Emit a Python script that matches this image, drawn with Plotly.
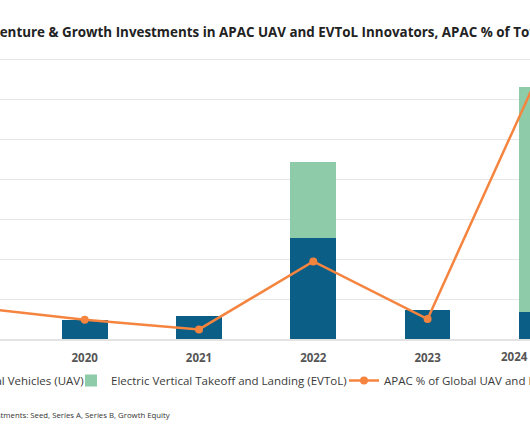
import plotly.graph_objects as go

# ---- data ----
years = ["2019", "2020", "2021", "2022", "2023", "2024 (YTD)"]
uav_invest = [30, 47, 58, 252, 73, 68]          # Unmanned Aerial Vehicles (UAV)
evtol_invest = [0, 0, 0, 190, 0, 561]           # Electric Vertical Takeoff and Landing (EVToL)
apac_share = [0.040, 0.024, 0.012, 0.097, 0.025, 0.34]  # APAC % of Global UAV and EVToL

title_text = "Venture & Growth Investments in APAC UAV and EVToL Innovators, APAC % of Total"
note_text = "Note: Venture & Growth Investments: Seed, Series A, Series B, Growth Equity"

C_UAV = "#0b5e86"
C_EVTOL = "#8ecba9"
C_LINE = "#f5843f"
FONT = "Open Sans"

W, H = 530, 442
M_T, M_B = 57, 103
PLOT_H = H - M_T - M_B          # 282 px
Y_TOP = 700 * PLOT_H / 280      # so that the 700 gridline sits at pixel row 59
Y2_TOP = 0.35 * PLOT_H / 280

def py(pix):  # paper y from pixel row
    return (H - M_B - pix) / PLOT_H

fig = go.Figure()
fig.add_trace(go.Bar(
    x=years, y=uav_invest, name="Unmanned Aerial Vehicles (UAV)",
    marker=dict(color=C_UAV, line=dict(width=0)), width=0.4, legend="legend",
))
fig.add_trace(go.Bar(
    x=years, y=evtol_invest, name="Electric Vertical Takeoff and Landing (EVToL)",
    marker=dict(color=C_EVTOL, line=dict(width=0)), width=0.4, legend="legend2",
))
fig.add_trace(go.Scatter(
    x=years, y=apac_share, name="APAC % of Global UAV and EVToL Investments",
    mode="lines+markers", yaxis="y2",
    line=dict(color=C_LINE, width=2.5), marker=dict(color=C_LINE, size=8),
    legend="legend3",
))

legend_common = dict(orientation="h", font=dict(family=FONT, size=11.5, color="#3a3a3a"),
                     bgcolor="rgba(0,0,0,0)", borderwidth=0, yanchor="top")
LEG_Y = py(366)

fig.update_layout(
    width=W, height=H,
    margin=dict(l=0, r=0, t=M_T, b=M_B, pad=0, autoexpand=False),
    paper_bgcolor="white", plot_bgcolor="white",
    barmode="stack",
    font=dict(family=FONT, color="#333"),
    showlegend=True,
    xaxis=dict(
        type="category", categoryorder="array", categoryarray=years,
        range=[0.259, 4.896],
        tickmode="array", tickvals=years,
        ticktext=[f"<b>{y}</b>" for y in years],
        tickfont=dict(family=FONT, size=11.5, color="#555"),
        ticklabelstandoff=7,
        showgrid=False, showline=True, linecolor="#e3e3e3", linewidth=1.5,
        ticks="", zeroline=False,
    ),
    yaxis=dict(
        range=[0, Y_TOP], dtick=100, showticklabels=False,
        showgrid=True, gridcolor="#e6e6e6", gridwidth=1,
        zeroline=False, showline=False, ticks="",
    ),
    yaxis2=dict(
        range=[0, Y2_TOP], overlaying="y", side="right",
        showticklabels=False, showgrid=False, zeroline=False, showline=False,
        tickformat=".0%",
    ),
    legend=dict(**legend_common, x=89 / W, xanchor="right", y=LEG_Y),
    legend2=dict(**legend_common, x=71 / W, xanchor="left", y=LEG_Y),
    legend3=dict(**legend_common, x=344 / W, xanchor="left", y=LEG_Y),
)

fig.add_annotation(
    text=f"<b>{title_text}</b>", xref="paper", yref="paper",
    x=-11 / W, y=py(32), xanchor="left", yanchor="middle", showarrow=False,
    font=dict(family=FONT, size=13.4, color="#222"),
)
fig.add_annotation(
    text=f"<b>{years[-1]}</b>", xref="paper", yref="paper",
    x=499 / W, y=py(356.5), xanchor="left", yanchor="middle", showarrow=False,
    font=dict(family=FONT, size=11.5, color="#555"),
)
fig.add_annotation(
    text=note_text, xref="paper", yref="paper",
    x=172 / W, y=py(415), xanchor="right", yanchor="middle", showarrow=False,
    font=dict(family=FONT, size=7.8, color="#333"),
)

fig.write_html(
    "out.html",
    config={"displayModeBar": False},
    post_script="document.body.style.margin='0';document.body.style.overflow='hidden';",
)
